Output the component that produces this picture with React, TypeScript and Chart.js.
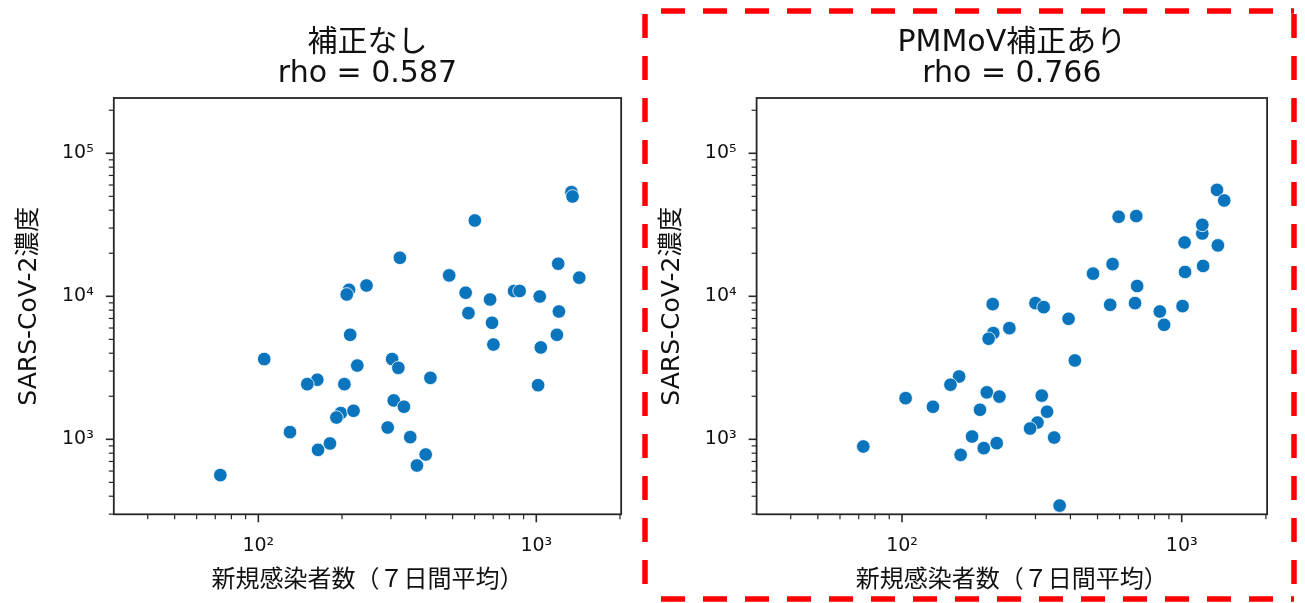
import React, { useEffect, useRef } from "react";
import { Chart, registerables } from "chart.js";

Chart.register(...registerables);

// ---------- data ----------
const titlesLeft = ["補正なし", "rho = 0.587"];
const titlesRight = ["PMMoV補正あり", "rho = 0.766"];
const xLabel = "新規感染者数（７日間平均）";
const yLabel = "SARS-CoV-2濃度";

const xMin = 30.2;
const xMax = 2020;
const yMin = 299;
const yMax = 243600;

const xTickValues = [40, 50, 60, 70, 80, 90, 100, 200, 300, 400, 500, 600, 700, 800, 900, 1000, 2000];
const yTickValues = [
  300, 400, 500, 600, 700, 800, 900,
  1000, 2000, 3000, 4000, 5000, 6000, 7000, 8000, 9000,
  10000, 20000, 30000, 40000, 50000, 60000, 70000, 80000, 90000,
  100000, 200000,
];

const casesLeft = [
  1338, 1350, 601, 323, 1199, 486, 1428, 212, 208, 245, 557, 682, 832, 871, 1029,
  570, 693, 1206, 214, 1186, 701, 1038, 1015, 105, 227, 163, 150, 204, 303, 319,
  416, 307, 334, 198, 191, 220, 130, 292, 352, 181, 164, 400, 372, 73,
];
const concLeft = [
  53500, 49900, 33900, 18600, 16900, 14000, 13500, 11100, 10300, 11900, 10600, 9500, 10900, 10900, 9970,
  7630, 6530, 7830, 5380, 5380, 4600, 4390, 2390, 3640, 3280, 2610, 2430, 2430, 3640, 3160,
  2690, 1870, 1690, 1525, 1420, 1583, 1123, 1209, 1036, 935, 844, 783, 656, 562,
];

const casesRight = [
  1337, 1419, 595, 688, 1024, 1185, 1185, 1347, 566, 482, 1028, 1193, 693, 211, 300,
  321, 555, 681, 835, 865, 1007, 394, 242, 212, 204, 415, 160, 149, 103, 201,
  223, 316, 129, 190, 330, 305, 287, 178, 350, 72.7, 196, 218, 162, 366,
];
const concRight = [
  55500, 46800, 36000, 36400, 23800, 27500, 31600, 22700, 16800, 14400, 14800, 16300, 11800, 8820, 8960,
  8400, 8720, 8960, 7830, 6320, 8540, 6960, 5990, 5530, 5050, 3560, 2750, 2410, 1940, 2130,
  1990, 2020, 1690, 1610, 1560, 1310, 1190, 1046, 1029, 891, 868, 940, 779, 344,
];

// ---------- style ----------
const FONT = "'DejaVu Sans', 'Noto Sans CJK JP', sans-serif";
const BLUE = "#0a75bc";
const TEXT = "#111111";
const AXIS = "#262626";

const SUP: Record<string, string> = {
  "0": "⁰", "1": "¹", "2": "²", "3": "³", "4": "⁴", "5": "⁵", "6": "⁶", "7": "⁷", "8": "⁸", "9": "⁹",
};

function isPow10(v: number) {
  const e = Math.log10(v);
  return Math.abs(e - Math.round(e)) < 1e-9;
}
function powLabel(v: number) {
  if (!isPow10(v)) return "";
  const e = String(Math.round(Math.log10(v)));
  return "10" + e.split("").map((c) => SUP[c]).join("");
}

function decorPlugin(titles: string[], dashed: boolean) {
  return {
    id: "decor",
    afterDraw(chart: any) {
      const { ctx, chartArea: a, scales } = chart;
      ctx.save();
      ctx.strokeStyle = AXIS;
      // tick marks
      for (const v of xTickValues) {
        const px = scales.x.getPixelForValue(v);
        if (px < a.left - 0.5 || px > a.right + 0.5) continue;
        const major = isPow10(v);
        ctx.lineWidth = major ? 1.6 : 1.2;
        ctx.beginPath();
        ctx.moveTo(px, a.bottom);
        ctx.lineTo(px, a.bottom + (major ? 8 : 5));
        ctx.stroke();
      }
      for (const v of yTickValues) {
        const py = scales.y.getPixelForValue(v);
        if (py < a.top - 0.5 || py > a.bottom + 0.5) continue;
        const major = isPow10(v);
        ctx.lineWidth = major ? 1.6 : 1.2;
        ctx.beginPath();
        ctx.moveTo(a.left, py);
        ctx.lineTo(a.left - (major ? 8 : 5), py);
        ctx.stroke();
      }
      // frame
      ctx.lineWidth = 1.8;
      ctx.strokeRect(a.left, a.top, a.right - a.left, a.bottom - a.top);
      // titles
      ctx.fillStyle = TEXT;
      ctx.font = `30px ${FONT}`;
      ctx.textAlign = "center";
      ctx.textBaseline = "middle";
      const cx = (a.left + a.right) / 2;
      ctx.fillText(titles[0], cx, 43);
      ctx.fillText(titles[1], cx, 74);
      if (dashed) {
        ctx.strokeStyle = "#ff0000";
        ctx.lineWidth = 5.5;
        ctx.setLineDash([24, 18]);
        const L = 5, R = 654, T = 11, B = 599;
        const seg = (x1: number, y1: number, x2: number, y2: number, off: number) => {
          ctx.lineDashOffset = off;
          ctx.beginPath();
          ctx.moveTo(x1, y1);
          ctx.lineTo(x2, y2);
          ctx.stroke();
        };
        seg(L, T, R, T, 26);
        seg(L, T, L, B, 39);
        seg(R, T, R, B, 39);
        seg(L, B, R, B, 26);
      }
      ctx.restore();
    },
  };
}

function makeConfig(
  xs: number[], ys: number[], titles: string[], yAxisWidth: number, rightPad: number,
  yTitlePad: number, dashed: boolean
): any {
  return {
    type: "scatter",
    data: {
      datasets: [
        {
          data: xs.map((x, i) => ({ x, y: ys[i] })),
          backgroundColor: BLUE,
          borderColor: "#ffffff",
          borderWidth: 0.8,
          pointRadius: 6.8,
          pointHoverRadius: 6.8,
        },
      ],
    },
    options: {
      animation: false,
      responsive: false,
      events: [],
      layout: { padding: { left: 0, top: 98, right: rightPad, bottom: 0 } },
      plugins: {
        legend: { display: false },
        tooltip: { enabled: false },
        title: { display: false },
      },
      scales: {
        x: {
          type: "logarithmic",
          min: xMin,
          max: xMax,
          grid: { display: false, drawTicks: false },
          border: { display: false },
          afterBuildTicks: (s: any) => {
            s.ticks = xTickValues.map((v) => ({ value: v }));
          },
          afterFit: (s: any) => {
            s.height = 88.7;
          },
          ticks: {
            autoSkip: false,
            maxRotation: 0,
            minRotation: 0,
            padding: 20,
            color: TEXT,
            font: { family: FONT, size: 19 },
            callback: (v: any) => powLabel(Number(v)),
          },
          title: {
            display: true,
            text: xLabel,
            color: TEXT,
            font: { family: FONT, size: 24 },
            padding: { top: 0, bottom: 8 },
          },
        },
        y: {
          type: "logarithmic",
          min: yMin,
          max: yMax,
          grid: { display: false, drawTicks: false },
          border: { display: false },
          afterBuildTicks: (s: any) => {
            s.ticks = yTickValues.map((v) => ({ value: v }));
          },
          afterFit: (s: any) => {
            s.width = yAxisWidth;
          },
          ticks: {
            autoSkip: false,
            padding: 20,
            color: TEXT,
            font: { family: FONT, size: 19 },
            callback: (v: any) => powLabel(Number(v)),
          },
          title: {
            display: true,
            text: yLabel,
            color: TEXT,
            font: { family: FONT, size: 25 },
            padding: { top: yTitlePad, bottom: 0 },
          },
        },
      },
    },
    plugins: [decorPlugin(titles, dashed)],
  };
}

function Panel(props: {
  left: number; width: number; xs: number[]; ys: number[]; titles: string[];
  yAxisWidth: number; rightPad: number; yTitlePad: number; dashed: boolean;
}) {
  const ref = useRef<HTMLCanvasElement | null>(null);
  useEffect(() => {
    if (!ref.current) return;
    const chart = new Chart(
      ref.current,
      makeConfig(props.xs, props.ys, props.titles, props.yAxisWidth, props.rightPad, props.yTitlePad, props.dashed)
    );
    return () => chart.destroy();
  }, []);
  return (
    <canvas
      ref={ref}
      width={props.width}
      height={603}
      style={{ position: "absolute", left: props.left, top: 0, width: props.width, height: 603 }}
    />
  );
}

export default function App() {
  useEffect(() => {
    document.body.style.margin = "0";
    document.body.style.overflow = "hidden";
  }, []);
  return (
    <div style={{ position: "absolute", left: 0, top: 0, width: 1305, height: 603, background: "#ffffff", overflow: "hidden" }}>
      <Panel left={0} width={640} xs={casesLeft} ys={concLeft} titles={titlesLeft}
        yAxisWidth={113.8} rightPad={14.2} yTitlePad={14.4} dashed={false} />
      <Panel left={640} width={665} xs={casesRight} ys={concRight} titles={titlesRight}
        yAxisWidth={116.6} rightPad={37.9} yTitlePad={17} dashed={true} />
    </div>
  );
}
